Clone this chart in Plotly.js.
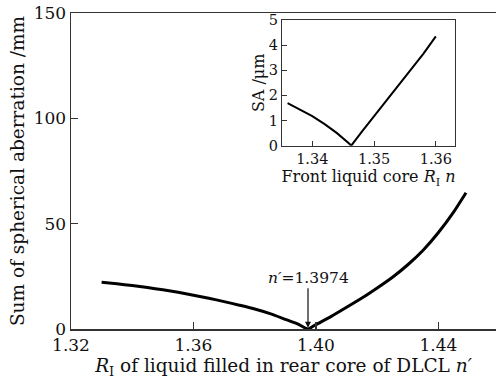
<!DOCTYPE html>
<html>
<head>
<meta charset="utf-8">
<script src="https://cdn.plot.ly/plotly-3.0.1.min.js"></script>
<style>html,body{margin:0;padding:0;background:#fff;}#chart{width:496px;height:385px;}</style>
</head>
<body>
<div id="chart"></div>
<script>
// Main curve: sum of spherical aberration (mm) vs rear-core refractive index n'
const mainN = [1.330, 1.335, 1.340, 1.345, 1.350, 1.355, 1.360, 1.365, 1.370, 1.375, 1.380, 1.385, 1.390, 1.394, 1.3974, 1.400, 1.405, 1.410, 1.415, 1.420, 1.425, 1.430, 1.435, 1.440, 1.445, 1.449];
const mainSA = [22.2, 21.5, 20.6, 19.7, 18.6, 17.4, 16.0, 14.6, 13.0, 11.3, 9.5, 7.3, 4.6, 2.4, 0.0, 2.1, 6.0, 10.3, 14.7, 19.5, 24.6, 30.5, 37.4, 45.8, 55.6, 64.7];

// Inset: SA (um) vs front liquid core n
const insetN = [1.336, 1.338, 1.340, 1.342, 1.344, 1.346, 1.3463, 1.348, 1.350, 1.352, 1.354, 1.356, 1.358, 1.360];
const insetSA = [1.69, 1.45, 1.18, 0.86, 0.50, 0.08, 0.0, 0.55, 1.17, 1.80, 2.40, 3.00, 3.66, 4.35];

const mainTicks = [1.32, 1.36, 1.40, 1.44];
const mainTickText = ['1.32', '1.36', '1.40', '1.44'];
const insetTicks = [1.34, 1.35, 1.36];
const insetTickText = ['1.34', '1.35', '1.36'];

const FONT = 'DejaVu Serif';
const AX = '#333';

const traces = [
  {x: mainN, y: mainSA, type: 'scatter', mode: 'lines', line: {color: '#000', width: 3, shape: 'spline', smoothing: 0.5}, xaxis: 'x', yaxis: 'y', hoverinfo: 'none'},
  {x: insetN, y: insetSA, type: 'scatter', mode: 'lines', line: {color: '#000', width: 2, shape: 'linear'}, xaxis: 'x2', yaxis: 'y2', hoverinfo: 'none'}
];

const layout = {
  width: 496, height: 385,
  margin: {l: 71, r: 0, t: 13, b: 56},
  paper_bgcolor: '#fff', plot_bgcolor: '#fff',
  showlegend: false,
  font: {family: FONT, color: '#111', size: 17},
  xaxis: {
    range: [1.32, 1.4588], tickvals: mainTicks, ticktext: mainTickText,
    ticks: 'inside', ticklen: 7, tickwidth: 1.3, tickcolor: AX,
    showline: true, linecolor: AX, linewidth: 1.5, mirror: true,
    showgrid: false, zeroline: false,
    tickfont: {size: 17, family: FONT},
    title: {text: '<i>R</i><sub>I</sub> of liquid filled in rear core of DLCL <i>n′</i>', font: {size: 18.5, family: FONT}, standoff: 3}
  },
  yaxis: {
    range: [0, 150], tickvals: [0, 50, 100, 150],
    ticks: 'inside', ticklen: 7, tickwidth: 1.3, tickcolor: AX,
    showline: true, linecolor: AX, linewidth: 1.5, mirror: false,
    showgrid: false, zeroline: false,
    tickfont: {size: 17, family: FONT},
    title: {text: 'Sum of spherical aberration /mm', font: {size: 18.5, family: FONT}, standoff: 4}
  },
  xaxis2: {
    domain: [0.4965, 0.9035], anchor: 'y2',
    range: [1.3351, 1.3631], tickvals: insetTicks, ticktext: insetTickText,
    ticks: 'inside', ticklen: 5, tickwidth: 1, tickcolor: AX,
    showline: true, linecolor: AX, linewidth: 1.2, mirror: true,
    showgrid: false, zeroline: false,
    tickfont: {size: 14.5, family: FONT},
    title: {text: 'Front liquid core <i>R</i><sub>I</sub> <i>n</i>', font: {size: 16, family: FONT}, standoff: 0}
  },
  yaxis2: {
    domain: [0.58, 0.978], anchor: 'x2',
    range: [0, 5], tickvals: [0, 1, 2, 3, 4, 5],
    ticks: 'inside', ticklen: 5, tickwidth: 1, tickcolor: AX,
    showline: true, linecolor: AX, linewidth: 1.2, mirror: true,
    showgrid: false, zeroline: false,
    tickfont: {size: 14.5, family: FONT},
    title: {text: 'SA /μm', font: {size: 16, family: FONT}, standoff: 0}
  },
  annotations: [{
    x: 1.3974, y: 0.6, xref: 'x', yref: 'y',
    text: '<i>n′</i>=1.3974', font: {size: 15.5, family: FONT, color: '#111'},
    showarrow: true, arrowhead: 2, arrowsize: 1, arrowwidth: 1.2, arrowcolor: '#111',
    ax: 0, ay: -50, standoff: 0
  }]
};

Plotly.newPlot('chart', traces, layout, {displayModeBar: false, staticPlot: true});
</script>
</body>
</html>
